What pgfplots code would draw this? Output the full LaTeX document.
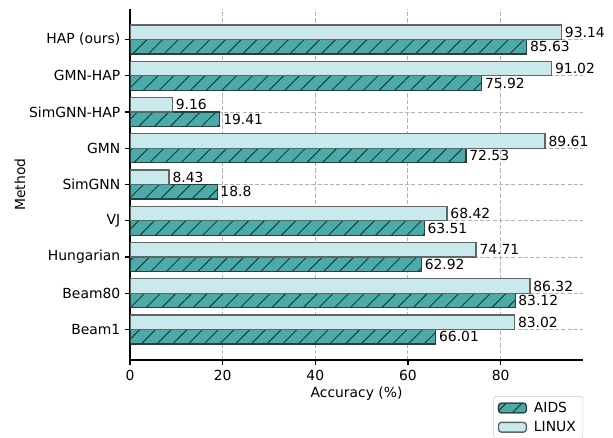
\documentclass[border=0pt]{standalone}
\usepackage{fontspec}
\setmainfont{DejaVu Sans}
\usepackage{pgfplots}
\pgfplotsset{compat=1.18}
\usetikzlibrary{patterns.meta}
\definecolor{aids}{HTML}{4AABA8}
\definecolor{aidsedge}{HTML}{2B3F3F}
\definecolor{linux}{HTML}{C9E9ED}
\definecolor{linuxedge}{HTML}{5F6666}
\definecolor{hatchc}{HTML}{1E3A3A}
\pgfplotsset{mylegend/.style={legend image code/.code={\draw[##1] (0bp,-3.5bp) rectangle (20bp,3.5bp);}}}
\begin{document}
\begin{tikzpicture}
\begin{axis}[
  at={(93.6bp,-259.2bp)}, anchor=south west,
  scale only axis, width=326.2bp, height=252.7bp,
  xbar, bar width=0.4,
  xmin=0, xmax=97.8, ymin=-0.84, ymax=8.84,
  axis x line*=bottom, axis y line*=left,
  axis line style={black, line width=0.8bp, -},
  xtick={0,20,40,60,80}, ytick={0,1,2,3,4,5,6,7,8},
  yticklabels={Beam1,Beam80,Hungarian,VJ,SimGNN,GMN,SimGNN-HAP,GMN-HAP,HAP (ours)},
  tick align=outside, major tick length=3.5bp,
  tick style={black, line width=0.8bp},
  grid=major, grid style={gray!60, line width=0.7bp, dash pattern=on 3bp off 1.5bp},
  tick label style={font=\fontsize{10bp}{12bp}\selectfont},
  label style={font=\fontsize{10bp}{12bp}\selectfont},
  /pgf/number format/assume math mode=true,
  xlabel={Accuracy (\%)}, ylabel={Method},
  xlabel style={at={(axis description cs:0.5,-0.108)}, anchor=base},
  ylabel style={at={(axis description cs:-0.243,0.5)}, anchor=center, rotate=0},
  point meta=x,
  nodes near coords={\pgfmathprintnumber[fixed,precision=2]{\pgfplotspointmeta}},
  every node near coord/.append style={font=\fontsize{10bp}{12bp}\selectfont, text=black, inner sep=2bp, anchor=west},
  legend style={at={(1,-0.1026)}, anchor=north east, draw=black!20, rounded corners=2bp,
    font=\fontsize{10bp}{12bp}\selectfont, inner xsep=3bp, inner ysep=2bp, row sep=1bp,
    /tikz/every odd column/.append style={column sep=3bp}},
  legend cell align=left,
]
\addplot[mylegend, fill=aids, draw=aidsedge, line width=0.8bp, bar shift=-0.2,
  postaction={pattern={Lines[angle=45,distance=8bp,line width=0.7bp]}, pattern color=hatchc}]
  coordinates {(66.01,0) (83.12,1) (62.92,2) (63.51,3) (18.8,4) (72.53,5) (19.41,6) (75.92,7) (85.63,8)};
\addlegendentry{AIDS}
\addplot[mylegend, fill=linux, draw=linuxedge, line width=1bp, bar shift=0.2]
  coordinates {(83.02,0) (86.32,1) (74.71,2) (68.42,3) (8.43,4) (89.61,5) (9.16,6) (91.02,7) (93.14,8)};
\addlegendentry{LINUX}
\end{axis}
\pgfresetboundingbox
\path[use as bounding box] (0,0) rectangle (441.36bp,-315.36bp);
\end{tikzpicture}
\end{document}
